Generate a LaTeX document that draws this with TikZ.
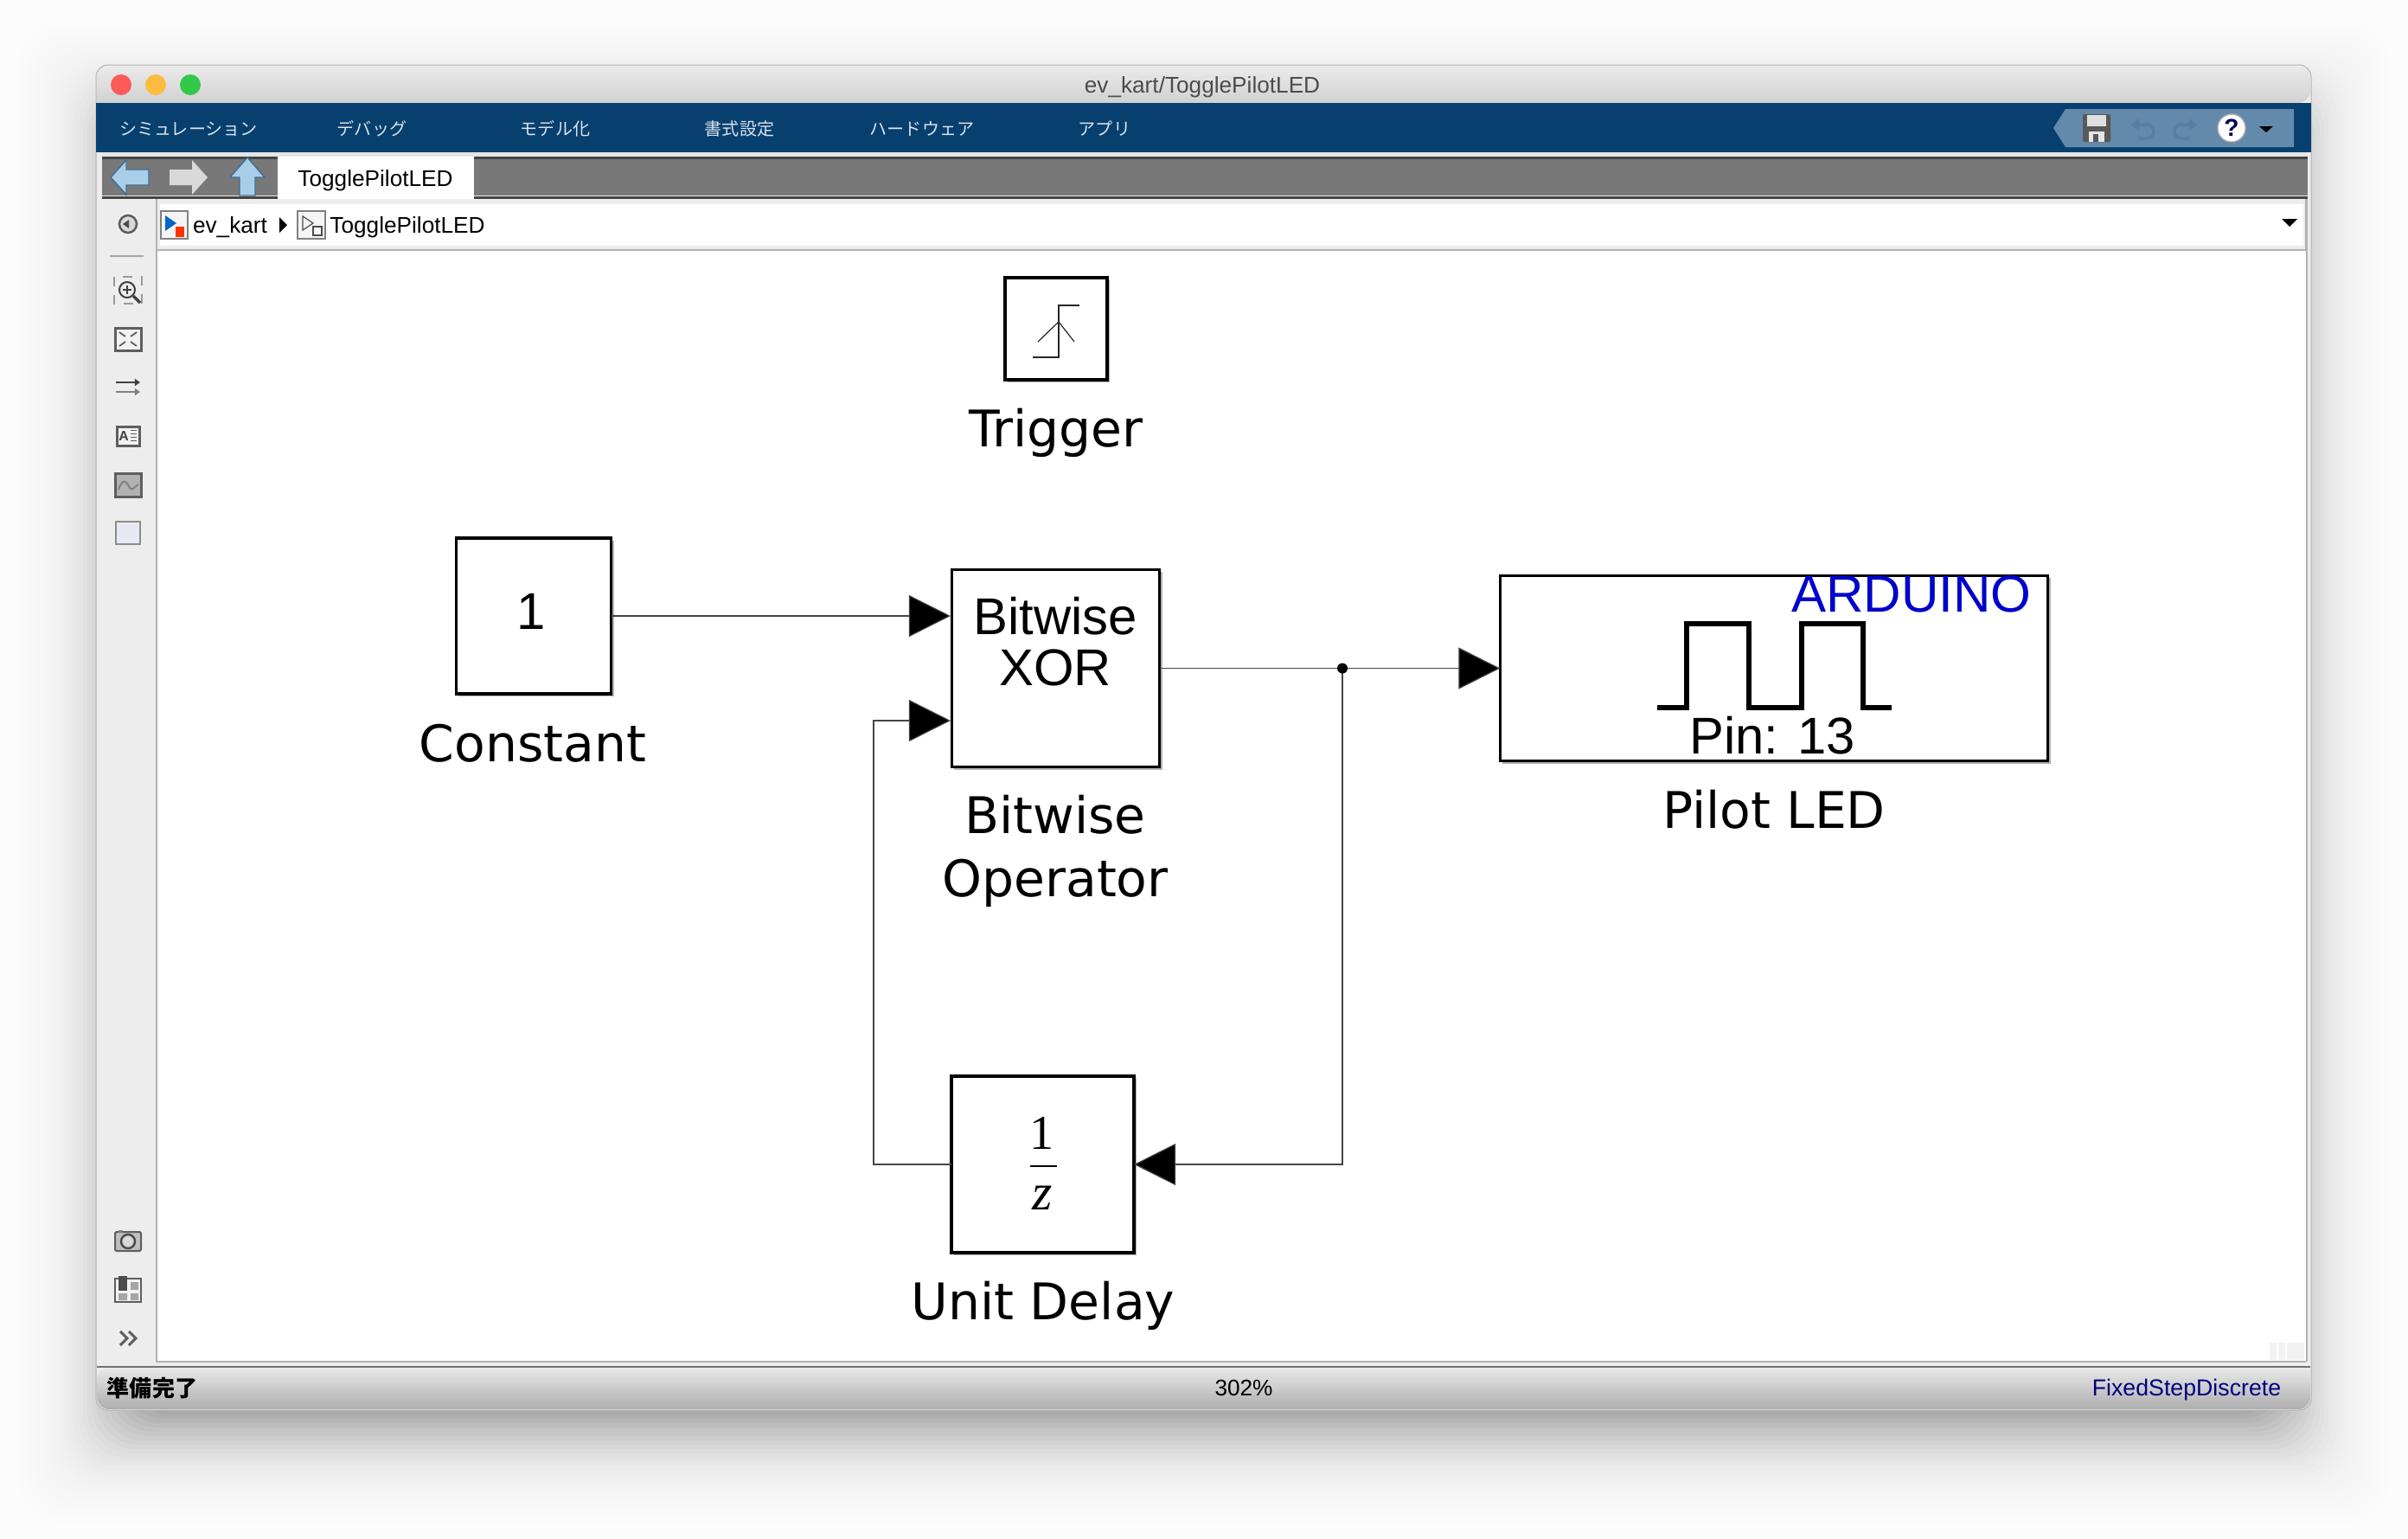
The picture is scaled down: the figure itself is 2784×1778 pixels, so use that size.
\documentclass[tikz,border=0pt]{standalone}
\usepackage{fontspec}
\setmainfont{Liberation Sans}
\newfontfamily\lblfont{DejaVu Sans}
\newfontfamily\cjkfont{Noto Sans CJK JP}
\newfontfamily\mathsfont{Liberation Serif}
\definecolor{menublue}{HTML}{07406F}
\definecolor{btnblue}{HTML}{6389AB}
\definecolor{icoblue}{HTML}{5580A5}
\definecolor{arrowblue}{HTML}{A9CFE8}
\definecolor{arrowedge}{HTML}{3F6D96}
\definecolor{barline}{HTML}{444444}
\definecolor{tabgray}{HTML}{787878}
\definecolor{panel}{HTML}{EDEDED}
\definecolor{arduino}{HTML}{0000CC}
\definecolor{navytxt}{HTML}{000080}
\definecolor{icogray}{HTML}{5E5E5E}
\definecolor{icolilac}{HTML}{E8E8F5}
\definecolor{closered}{HTML}{FC5B57}
\definecolor{minyellow}{HTML}{FDBC40}
\definecolor{maxgreen}{HTML}{34C84A}
\usetikzlibrary{arrows.meta, positioning, shadows}

\begin{document}
\begin{tikzpicture}[
  x=0.01cm, y=-0.01cm,
  block/.style={draw=black, fill=white, line width=0.035cm, inner sep=0pt, outer sep=0pt,
                drop shadow={shadow xshift=0.03cm, shadow yshift=-0.03cm, opacity=0.3, fill=black}},
  lbl/.style={font=\lblfont\fontsize{16.6}{20}\selectfont, inner sep=0pt},
  blocktxt/.style={font=\fontsize{17}{20}\selectfont, inner sep=0pt},
  sig/.style={draw=barline, line width=0.012cm, -{Triangle[length=0.48cm, width=0.48cm, fill=black]}},
  menu/.style={font=\cjkfont\fontsize{5.7}{7}\selectfont, text=white!85!menublue, inner sep=0pt},
  uitxt/.style={font=\fontsize{7.45}{9}\selectfont, inner sep=0pt},
  ico/.style={draw=icogray, line width=0.02cm},
]
  \useasboundingbox (0,0) rectangle (2784,1778);
  \fill[white!99!black] (0,0) rectangle (2784,1778);

  % Window shadow
  \foreach \s [evaluate=\s as \op using {0.002+0.037*((90-\s)/130)^2}] in {90,85,...,-40}
    \fill[black, opacity=\op, rounded corners=0.5cm]
      ({111-\s},{115-\s}) rectangle ({2672+\s},{1670+\s});

  % Window
  \fill[panel, rounded corners=0.14cm] (111,75) rectangle (2672,1630);
  \draw[black!30, line width=0.01cm, rounded corners=0.14cm] (111,75) rectangle (2672,1630);
  \shade[top color=black!8, bottom color=black!18, rounded corners=0.14cm]
    (112,119) -- (112,76) -- (2671,76) -- (2671,119) [sharp corners] -- cycle;
  \fill[menublue] (111,119) rectangle (2672,176);
  \fill[btnblue] (2374,148) -- (2388,126) -- (2652,126) -- (2652,170) -- (2388,170) -- cycle;
  \fill[closered] (140,98) circle (12);
  \fill[minyellow] (180,98) circle (12);
  \fill[maxgreen] (220,98) circle (12);
  \node[uitxt, text=black!70] (title) at (1390,101) {ev\_kart/TogglePilotLED};

  % Menu
  \node[menu] (mSim) at (218,149) {シミュレーション};
  \node[menu] (mDbg) at (430,149) {デバッグ};
  \node[menu] (mMdl) at (642,149) {モデル化};
  \node[menu] (mFmt) at (855,149) {書式設定};
  \node[menu] (mHw)  at (1066,149) {ハードウェア};
  \node[menu] (mApp) at (1277,149) {アプリ};

  % Quick access icons
  \fill[black!65, rounded corners=0.02cm] (2408,132) rectangle (2440,164);
  \fill[black!12] (2413,133) rectangle (2435,146);
  \fill[black!10] (2415,152) rectangle (2433,164);
  \fill[black!65] (2420,155) rectangle (2426,164);
  \draw[icoblue, line width=0.035cm, line cap=round] (2468,144) -- (2482,144)
    arc[start angle=-90, end angle=90, radius=8] -- (2474,160);
  \fill[icoblue] (2463,144) -- (2473,137) -- (2473,151) -- cycle;
  \draw[icoblue, line width=0.035cm, line cap=round] (2536,144) -- (2522,144)
    arc[start angle=270, end angle=90, radius=8] -- (2530,160);
  \fill[icoblue] (2541,144) -- (2531,137) -- (2531,151) -- cycle;
  \node[circle, fill=white, draw=black!30, minimum size=0.32cm, inner sep=0pt,
        font=\bfseries\fontsize{8}{8}\selectfont, text=black!70!blue] (help) at (2580,148) {?};
  \fill[black] (2612,146) -- (2628,146) -- (2620,153) -- cycle;

  % Tab bar
  \fill[white!90!black] (118,176) rectangle (2668,184);
  \fill[tabgray] (118,184) rectangle (2668,226);
  \fill[barline] (118,181) rectangle (2668,183.5);
  \fill[barline] (118,226.5) rectangle (2668,229.5);
  \fill[white] (321,181) rectangle (548,230);
  \node[uitxt] (tab) at (434,209) {TogglePilotLED};
  \fill[arrowblue, draw=arrowedge] (128,205) -- (146,185) -- (146,196) -- (172,196) -- (172,214) -- (146,214) -- (146,225) -- cycle;
  \fill[black!15] (240,205) -- (222,185) -- (222,196) -- (196,196) -- (196,214) -- (222,214) -- (222,225) -- cycle;
  \fill[arrowblue, draw=arrowedge] (286,182) -- (306,205) -- (295,205) -- (295,226) -- (277,226) -- (277,205) -- (266,205) -- cycle;

  % Address bar
  \fill[white] (185,236) rectangle (2663,284);
  \draw[black!30, line width=0.03cm] (181,289) -- (2666,289);
  \draw[black!30, line width=0.03cm] (2666,230) -- (2666,1574);
  \fill[white] (181,290) rectangle (2666,1574);
  \draw[black!30, line width=0.02cm] (181,230) -- (181,1574) -- (2666,1574);
  \draw[black!55, line width=0.015cm] (112,1580) -- (2671,1580);
  \fill[black!4, draw=black!50, line width=0.015cm] (186,244) rectangle (217,276);
  \fill[blue!50!cyan!80!black] (191,249) -- (204,258) -- (191,267) -- cycle;
  \fill[red!60!orange] (203,262) rectangle (213,274);
  \node[uitxt] (crumbA) at (266,263) {ev\_kart};
  \fill[black] (323,251) -- (332,260) -- (323,269) -- cycle;
  \fill[black!4, draw=black!50, line width=0.015cm] (344,244) rectangle (376,276);
  \draw[black!70, line width=0.012cm] (350,250) -- (362,258) -- (350,266) -- cycle;
  \draw[black!70, line width=0.012cm] (362,262) rectangle (372,272);
  \node[uitxt] (crumbB) at (471,263) {TogglePilotLED};
  \fill[black] (2638,253) -- (2656,253) -- (2647,262) -- cycle;

  % Left toolbar
  \draw[icogray, fill=black!15, line width=0.025cm] (148,259) circle (10);
  \fill[black!70] (142,259) -- (149,254) -- (149,264) -- cycle;
  \draw[black!35, line width=0.02cm] (127,296) -- (166,296);
  \draw[black!40, dashed, line width=0.015cm] (132,320) rectangle (164,351);
  \draw[black!75, line width=0.02cm] (147,335) circle (9);
  \draw[black!75, line width=0.015cm] (142,335) -- (152,335) (147,330) -- (147,340);
  \draw[black!75, line width=0.035cm] (154,342) -- (162,350);
  \draw[ico, fill=black!5, line width=0.03cm] (133,379) rectangle (163,405);
  \draw[icogray, line width=0.018cm] (138,384) -- (145,389) (158,384) -- (151,389) (138,400) -- (145,395) (158,400) -- (151,395);
  \draw[black!75, line width=0.02cm, -{Triangle[length=0.06cm, width=0.08cm]}] (134,442) -- (162,442);
  \draw[black!50, line width=0.02cm, -{Triangle[length=0.06cm, width=0.08cm]}] (134,453) -- (162,453);
  \draw[ico, fill=black!5, line width=0.03cm] (135,493) rectangle (161,515);
  \node[inner sep=0pt, font=\bfseries\fontsize{4.5}{5}\selectfont, text=black!75] (icoA) at (143,504) {A};
  \draw[icogray, line width=0.01cm] (151,497) -- (158,497) (151,501) -- (158,501) (151,505) -- (158,505) (151,509) -- (158,509);
  \draw[ico, fill=black!30, line width=0.03cm] (133,547) rectangle (163,574);
  \draw[black!50, line width=0.02cm] (137,566) .. controls (142,552) and (146,556) .. (150,564) .. controls (153,568) and (156,562) .. (160,560);
  \fill[icolilac, draw=black!45, line width=0.025cm] (134,603) rectangle (162,629);
  \draw[ico, fill=black!25, line width=0.02cm, rounded corners=0.02cm] (133,1424) rectangle (163,1446);
  \draw[black!70, fill=black!15, line width=0.025cm] (148,1435) circle (8);
  \fill[black!50] (137,1422) rectangle (142,1425);
  \draw[ico, fill=black!5, line width=0.02cm] (133,1478) rectangle (163,1505);
  \fill[black!70] (137,1475) rectangle (147,1492);
  \fill[black!35] (151,1482) rectangle (160,1491) (137,1495) rectangle (147,1503) (151,1495) rectangle (160,1503);
  \draw[icogray, line width=0.03cm] (139,1539) -- (147,1547) -- (139,1555) (149,1539) -- (157,1547) -- (149,1555);

  % Status bar
  \shade[top color=black!9, bottom color=black!32, rounded corners=0.14cm]
    (112,1581) [sharp corners] -- (2671,1581) [rounded corners=0.14cm] -- (2671,1629) -- (112,1629) -- cycle;
  \node[inner sep=0pt, font=\cjkfont\bfseries\fontsize{7.4}{9}\selectfont] (ready) at (176,1605) {準備完了};
  \node[uitxt] (zoomlvl) at (1438,1604) {302\%};
  \node[uitxt, font=\fontsize{7.6}{9}\selectfont, text=navytxt] (solver) at (2528,1607) {FixedStepDiscrete};
  \fill[black!5] (2624,1552) rectangle (2632,1572) (2634,1552) rectangle (2642,1572) (2644,1552) rectangle (2664,1572);

  % Blocks
  \node[block, minimum width=1.18cm, minimum height=1.18cm] (trigger) at (1221,380) {};
  \node[lbl] (triggerlbl) at (1221,500) {Trigger};
  \draw[black!85, line width=0.012cm] (1194,413) -- (1224,413) -- (1224,353) -- (1248,353);
  \draw[black!85, line width=0.012cm] (1200,395) -- (1224,372) -- (1242,395);

  \node[block, minimum width=1.79cm, minimum height=1.80cm] (constant) at (617,712) {};
  \node[blocktxt] (constanttxt) at (614,707) {1};
  \node[lbl] (constantlbl) at (616,859) {Constant};

  \node[block, minimum width=2.40cm, minimum height=2.28cm] (xor) at (1220.5,772.5) {};
  \node[blocktxt] (xortxtA) at (1220,712) {Bitwise};
  \node[blocktxt] (xortxtB) at (1220,772) {XOR};
  \node[lbl] (xorlblA) at (1220,942) {Bitwise};
  \node[lbl] (xorlblB) at (1220,1021) {Operator};

  \node[block, minimum width=6.33cm, minimum height=2.14cm] (led) at (2051,772.5) {};
  \node[inner sep=0pt, text=arduino, font=\fontsize{17.1}{20}\selectfont] (ledtxtA) at (2210,687) {ARDUINO};
  \draw[black, line width=0.055cm] (1916,818) -- (1950,818) -- (1950,721) -- (2022,721) -- (2022,818)
    -- (2083,818) -- (2083,721) -- (2154,721) -- (2154,818) -- (2187,818);
  \node[blocktxt] (ledtxtB) at (2049,850) {Pin: 13};
  \node[lbl] (ledlbl) at (2051,936) {Pilot LED};

  \node[block, minimum width=2.11cm, minimum height=2.04cm] (delay) at (1205.5,1346) {};
  \node[inner sep=0pt, font=\mathsfont\fontsize{16}{20}\selectfont] (delaynum) at (1205,1310) {1};
  \draw[black, line width=0.025cm] (1191,1348) -- (1222,1348);
  \node[inner sep=0pt, font=\mathsfont\itshape\fontsize{17}{20}\selectfont] (delayden) at (1205,1385) {z};
  \node[lbl] (delaylbl) at (1206,1509) {Unit Delay};

  % Arrows
  \coordinate (xorinA) at (1099,712);
  \coordinate (xorinB) at (1099,833);
  \coordinate (branch) at (1552,772.5);
  \coordinate (backcorner) at (1010,1346);
  \draw[sig] (constant.east |- xorinA) -- (xorinA);
  \draw[sig] (xor.east) -- (led.west);
  \draw[sig] (branch) |- (delay.east);
  \draw[sig] (delay.west) -- (backcorner) |- (xorinB);
  \fill[black] (branch) circle (6);
\end{tikzpicture}
\end{document}
